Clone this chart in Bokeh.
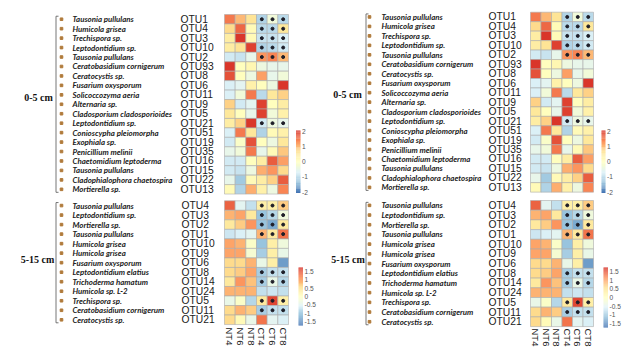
import numpy as np
from bokeh.plotting import figure
from bokeh.models import Range1d, ColumnDataSource, LinearColorMapper
from bokeh.core.properties import value
from bokeh.embed import file_html
from bokeh.resources import INLINE

# ---------------- data ----------------
samples = ["NT4", "NT6", "NT8", "CT4", "CT6", "CT8"]
sig_samples = ["CT4", "CT6", "CT8"]

top_otus = ["OTU1", "OTU4", "OTU3", "OTU10", "OTU2", "OTU93", "OTU8", "OTU6", "OTU11", "OTU9",
            "OTU5", "OTU21", "OTU51", "OTU19", "OTU35", "OTU16", "OTU15", "OTU22", "OTU13"]
top_species = ["Tausonia pullulans", "Humicola grisea", "Trechispora sp.", "Leptodontidium sp.",
               "Tausonia pullulans", "Ceratobasidium cornigerum", "Ceratocystis sp.",
               "Fusarium oxysporum", "Solicoccozyma aeria", "Alternaria sp.",
               "Cladosporium cladosporioides", "Leptodontidium sp.", "Conioscypha pleiomorpha",
               "Exophiala sp.", "Penicillium melinii", "Chaetomidium leptoderma",
               "Tausonia pullulans", "Cladophialophora chaetospira", "Mortierella sp."]
top_values = [
    [1.5, 1.0, 0.6, -1.1, -0.3, -1.0],
    [0.7, 1.6, 0.1, -1.0, -1.0, 0.5],
    [0.4, 2.0, 0.1, -0.9, -0.9, -0.7],
    [0.4, 0.6, 1.9, -1.1, -1.0, -0.8],
    [-0.8, -0.9, -0.5, 1.3, 1.4, 1.0],
    [2.0, 0.0, 0.2, -0.4, -0.5, -0.5],
    [1.8, 0.0, -0.4, 1.2, -0.5, -0.3],
    [-0.7, -0.6, 0.3, 0.0, -0.4, 2.0],
    [-0.7, -0.3, 1.5, -1.0, 0.5, 0.8],
    [0.8, -0.8, -0.6, 1.9, 0.0, 0.4],
    [0.5, 0.0, -0.5, 1.9, -0.3, 0.3],
    [0.4, 0.8, 2.0, -0.8, -0.4, -0.5],
    [-0.7, 1.5, 0.5, -1.1, 0.1, 0.3],
    [-0.8, -0.1, 1.8, 0.0, -0.4, 0.5],
    [-0.5, -0.3, 1.5, -0.5, 0.1, 0.9],
    [-0.8, -0.8, 0.0, 0.4, 1.7, 1.2],
    [-0.8, -0.9, -0.4, 1.1, 1.3, 0.7],
    [-0.5, -1.2, 0.1, 0.4, 0.8, 1.7],
    [0.1, -1.1, 1.1, 0.3, -0.4, 1.4],
]
top_sig = ["OTU1", "OTU4", "OTU3", "OTU10", "OTU2", "OTU21"]
top_ticks = [2, 1, 0, -1, -2]
top_range = [-2.05, 2.05]

bot_otus = ["OTU4", "OTU3", "OTU2", "OTU1", "OTU10", "OTU9", "OTU6", "OTU8", "OTU14", "OTU24",
            "OTU5", "OTU11", "OTU21"]
bot_species = ["Tausonia pullulans", "Leptodontidium sp.", "Mortierella sp.", "Tausonia pullulans",
               "Humicola grisea", "Humicola grisea", "Fusarium oxysporum", "Leptodontidium elatius",
               "Trichoderma hamatum", "Humicola sp. L-2", "Trechispora sp.",
               "Ceratobasidium cornigerum", "Ceratocystis sp."]
bot_values = [
    [1.4, -0.5, -0.8, 0.3, 0.3, 0.7],
    [0.9, 1.0, 0.4, -1.1, -0.9, -0.3],
    [0.4, 0.7, 1.1, -1.1, -1.3, 0.4],
    [-0.7, -0.6, -0.5, 0.9, 0.4, 1.3],
    [1.0, 0.9, -0.1, -1.1, 0.3, -0.3],
    [1.0, 1.0, -0.2, -1.0, 0.3, -0.4],
    [0.6, 0.6, 0.9, -0.4, 0.3, -1.4],
    [0.6, 0.7, 1.0, -1.0, -0.8, -0.8],
    [0.4, 1.1, 0.8, -1.0, -0.4, -0.9],
    [0.9, 0.9, 0.9, -0.8, -0.7, -0.8],
    [-0.4, -0.1, -0.9, 0.4, 1.6, 0.3],
    [0.6, 0.9, 0.7, -1.0, -0.8, -0.8],
    [0.6, 0.1, -0.4, 1.3, -0.5, -0.6],
]
bot_sig = ["OTU4", "OTU3", "OTU2", "OTU1", "OTU8", "OTU14", "OTU5", "OTU11"]
bot_ticks = [1.5, 1, 0.5, 0, -0.5, -1, -1.5]
bot_range = [-1.74, 1.74]

group_labels = ["0-5 cm", "5-15 cm"]

# ---------------- style ----------------
base = ["#4575B4", "#91BFDB", "#E0F3F8", "#FFFFBF", "#FEE090", "#FC8D59", "#D73027"]


def interp_palette(colors, n):
    rgb = np.array([[int(c[i:i + 2], 16) for i in (1, 3, 5)] for c in colors], float)
    t = np.linspace(0, len(colors) - 1, n)
    out = []
    for tt in t:
        i = min(int(np.floor(tt)), len(colors) - 2)
        f = tt - i
        c = rgb[i] * (1 - f) + rgb[i + 1] * f
        out.append("#%02x%02x%02x" % tuple(int(round(v)) for v in c))
    return out


palette = interp_palette(base, 100)

SP_FONT = value("Lato")
OTU_FONT = value("Liberation Sans")
GRP_FONT = value("Liberation Serif")
CELL_LINE = "#ababab"
DOT_COLOR = "#1e1e28"
BULLET_COLOR = "#b07a3a"
BRACKET_COLOR = "#666666"

W, H = 635, 357
p = figure(width=W, height=H, output_backend="svg", toolbar_location=None,
           x_range=Range1d(0, W), y_range=Range1d(H, 0),
           min_border=0, x_axis_location=None, y_axis_location=None)
p.grid.visible = False
p.outline_line_color = None
p.background_fill_color = "white"
p.border_fill_color = "white"


def draw_group(geom, otus, species, vals, sig, vrange, ticks, label):
    hx0, hx1, ytop, rh = geom["heat"]
    cw = (hx1 - hx0) / len(samples)
    mapper = LinearColorMapper(palette=palette, low=vrange[0], high=vrange[1])
    xs, ys, vs = [], [], []
    dx, dy = [], []
    for i, otu in enumerate(otus):
        for j, s in enumerate(samples):
            xs.append(hx0 + (j + 0.5) * cw)
            ys.append(ytop + (i + 0.5) * rh)
            vs.append(vals[i][j])
            if otu in sig and s in sig_samples:
                dx.append(hx0 + (j + 0.5) * cw)
                dy.append(ytop + (i + 0.5) * rh)
    src = ColumnDataSource(dict(x=xs, y=ys, v=vs))
    p.rect("x", "y", width=cw, height=rh, source=src,
           fill_color={"field": "v", "transform": mapper},
           line_color=CELL_LINE, line_width=0.6)
    p.scatter(dx, dy, size=3.0, marker="circle", color=DOT_COLOR)

    ry = [ytop + (i + 0.5) * rh for i in range(len(otus))]
    # row labels
    p.text([geom["sp_x"]] * len(otus), ry, text=species, text_font=SP_FONT,
           text_font_size=value("7.9px"), text_font_style="bold italic",
           text_color="#222222", text_baseline="middle", text_align="left")
    p.text([geom["otu_x"]] * len(otus), ry, text=otus, text_font=OTU_FONT,
           text_font_size=value("10.3px"), text_color="#1a1a1a",
           text_baseline="middle", text_align="left")
    p.scatter([geom["bullet_x"]] * len(otus), ry, size=2.6, marker="square",
              color=BULLET_COLOR)
    # bracket
    bx = geom["bracket_x"]
    b0 = ry[0] - 3
    b1 = ry[-1] + 3
    p.line([bx + 2.5, bx, bx, bx + 2.5], [b0, b0, b1, b1],
           line_color=BRACKET_COLOR, line_width=0.9)
    # group label
    gx, gy = geom["label"]
    p.text([gx], [gy], text=[label], text_font=GRP_FONT, text_font_size=value("10px"),
           text_font_style="bold", text_color="#111111", text_align="center",
           text_baseline="middle")
    # colour bar
    cx0, cx1, cy_top, cy_bot = geom["cbar"]
    n = 60
    edges = np.linspace(vrange[1], vrange[0], n + 1)
    mids = (edges[:-1] + edges[1:]) / 2
    span = cy_bot - cy_top

    def vy(v):
        return cy_top + (vrange[1] - v) / (vrange[1] - vrange[0]) * span

    csrc = ColumnDataSource(dict(x=[(cx0 + cx1) / 2] * n, y=[vy(m) for m in mids], v=list(mids)))
    p.rect("x", "y", width=cx1 - cx0, height=span / n * 1.05, source=csrc,
           fill_color={"field": "v", "transform": mapper}, line_color=None)
    p.text([cx1 + 1.5] * len(ticks), [vy(t) for t in ticks],
           text=[("%g" % t) for t in ticks], text_font=OTU_FONT,
           text_font_size=value("6.6px"), text_color="#555555",
           text_baseline="middle", text_align="left")
    return hx0, cw


def draw_panel(g):
    draw_group(g["top"], top_otus, top_species, top_values, top_sig, top_range, top_ticks,
               group_labels[0])
    hx0, cw = draw_group(g["bot"], bot_otus, bot_species, bot_values, bot_sig, bot_range,
                         bot_ticks, group_labels[1])
    cx = [hx0 + (j + 0.5) * cw for j in range(len(samples))]
    p.text(cx, [g["col_y"]] * len(samples), text=samples, angle=-np.pi / 2,
           text_font=OTU_FONT, text_font_size=value("9.5px"), text_color="#1a1a1a",
           text_align="left", text_baseline="middle")


left = dict(
    top=dict(heat=(224, 288, 14.0, 9.45), sp_x=72, otu_x=180, bullet_x=61, bracket_x=55.5,
             label=(38, 97), cbar=(295.5, 300, 130, 192.5)),
    bot=dict(heat=(224, 288, 200.3, 9.52), sp_x=72, otu_x=181, bullet_x=61, bracket_x=55.5,
             label=(37, 259), cbar=(298, 302.5, 267, 325)),
    col_y=327,
)
right = dict(
    top=dict(heat=(530, 593, 11.7, 9.47), sp_x=381, otu_x=488, bullet_x=369, bracket_x=365.5,
             label=(347, 94), cbar=(601, 605, 130, 192.5)),
    bot=dict(heat=(530, 593, 200.0, 9.7), sp_x=381, otu_x=488, bullet_x=369, bracket_x=365.5,
             label=(347.5, 259), cbar=(603, 607.5, 267, 327)),
    col_y=328,
)

draw_panel(left)
draw_panel(right)

open("out.html", "w").write(file_html(p, INLINE))
